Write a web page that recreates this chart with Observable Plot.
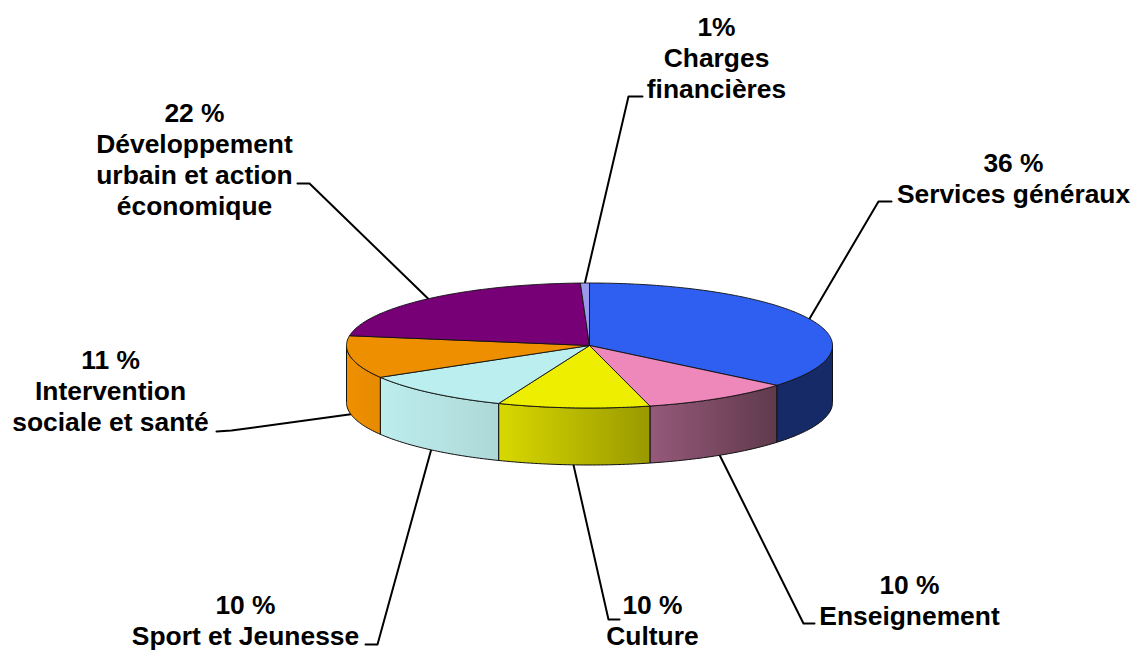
<!DOCTYPE html>
<html><head><meta charset="utf-8">
<script src="https://cdn.jsdelivr.net/npm/d3@7"></script>
<script src="https://cdn.jsdelivr.net/npm/@observablehq/plot@0.6"></script>
<style>html,body{margin:0;padding:0;background:#fff}svg{display:block}</style>
</head><body><div id="chart"></div>
<script>
// Data, clockwise from the top of the pie
const names = ["Services généraux","Enseignement","Culture","Sport et Jeunesse","Intervention sociale et santé","Développement urbain et action économique","Charges financières"];
// Slice sizes (the printed labels round them)
const shares = [36,10,10.1,10.4,11,21.9,0.6];
const labels = ["36 %\nServices généraux","10 %\nEnseignement","10 %\nCulture","10 %\nSport et Jeunesse","11 %\nIntervention\nsociale et santé","22 %\nDéveloppement\nurbain et action\néconomique","1%\nCharges\nfinancières"];
const topColors = ["#2e5ff0","#ee88bb","#eeee00","#bbeeee","#ee8f00","#770077","#9999ee"];
const sideFrom = ["#152a66","#96597a","#d8d800","#bdeded","#f09000","#770077","#9999ee"];
const sideTo   = ["#152a66","#5f3a4c","#999900","#aed8d8","#e68a00","#770077","#9999ee"];
// Layout of annotations (pixels)
const labelX = [1013,909,652,245,110,194,716];
const labelY = [177,599,619,619,390,158,57];
const elbowX = [878,803,608,377,231,309,628];
const elbowY = [201,623,619,644,430,183,96];
const tailX  = [891,814,619,365,216,297,642];
const tailY  = [201,623,619,644,431,183,96];
const pie = {cx:589,cy:345,rx:243,ry:62.5,depth:57};

const total = d3.sum(shares);
const ends = d3.cumsum(shares).map(v=>v/total);
const starts = ends.map((_,i)=>i?ends[i-1]:0);
const pt=(f,dy=0)=>{const a=2*Math.PI*f;return {x:pie.cx+pie.rx*Math.sin(a),y:pie.cy-pie.ry*Math.cos(a)+dy};};
const arc=(a,b,dy=0)=>{const n=Math.max(2,Math.ceil((b-a)*360));return d3.range(n+1).map(i=>pt(a+(b-a)*i/n,dy));};

const lineOpts={x:"x",y:"y",stroke:"#111",strokeWidth:1,curve:"linear"};
const sides=[],tops=[],defsMarkup=[];
shares.forEach((_,i)=>{
  const a=Math.max(starts[i],0.25),b=Math.min(ends[i],0.75);
  if(b>a){
    defsMarkup.push(`<linearGradient id="side${i}" x1="0" x2="1" y1="0" y2="0"><stop offset="0" stop-color="${sideFrom[i]}"/><stop offset="1" stop-color="${sideTo[i]}"/></linearGradient>`);
    const poly=[...arc(a,b),...arc(a,b,pie.depth).reverse()];
    poly.push(poly[0]);
    sides.push(Plot.line(poly,{...lineOpts,fill:`url(#side${i})`}));
  }
  const poly=[{x:pie.cx,y:pie.cy},...arc(starts[i],ends[i]),{x:pie.cx,y:pie.cy}];
  tops.push(Plot.line(poly,{...lineOpts,fill:topColors[i],strokeWidth:0.9,strokeLinejoin:"round"}));
});
const gradients=()=>{const g=document.createElementNS("http://www.w3.org/2000/svg","defs");g.innerHTML=defsMarkup.join("");return g;};

// Leader lines start at the middle of each slice's rim
const leaders=shares.map((_,i)=>{
  const f=(starts[i]+ends[i])/2;
  const front=f>0.25&&f<0.75;
  const s=pt(f,front?pie.depth:0);
  return Plot.line([s,{x:elbowX[i],y:elbowY[i]},{x:tailX[i],y:tailY[i]}],{x:"x",y:"y",stroke:"#000",strokeWidth:2,curve:"linear"});
});

const chart=Plot.plot({
  width:1136,height:650,margin:0,
  style:{background:"#fff"},
  x:{domain:[0,1136],range:[0,1136],axis:null},
  y:{domain:[0,650],range:[0,650],axis:null},
  marks:[
    gradients,
    ...leaders,
    ...sides,
    ...tops,
    Plot.text(labels,{x:(d,i)=>labelX[i],y:(d,i)=>labelY[i],text:d=>d,
      fontFamily:"Liberation Sans, Arial, sans-serif",fontWeight:"bold",fontSize:26.4,lineHeight:1.175,fill:"#000",textAnchor:"middle"})
  ]
});
document.getElementById("chart").append(chart);
</script></body></html>
